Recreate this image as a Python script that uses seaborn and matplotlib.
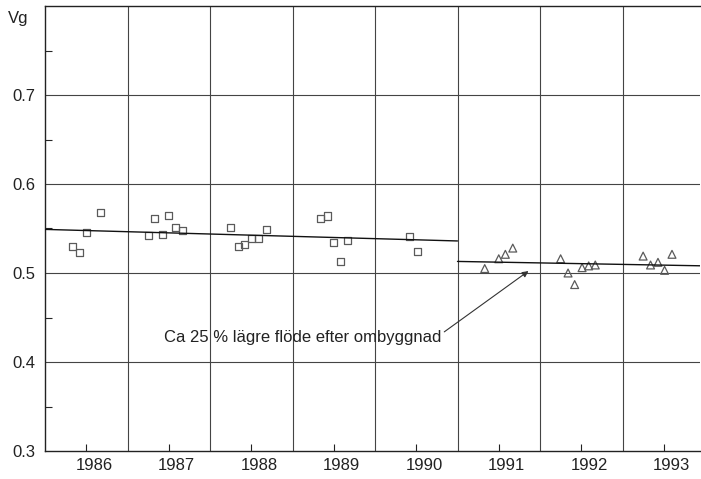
import matplotlib
matplotlib.use("Agg")
import matplotlib.pyplot as plt
import matplotlib.transforms as mtransforms
from matplotlib.ticker import FixedLocator, NullFormatter
import pandas as pd
import seaborn as sns

# Measured Vg before the rebuild (1986-1990), decimal year
before_t = [1986.33, 1986.42, 1986.50, 1986.67,
            1987.26, 1987.33, 1987.42, 1987.50, 1987.58, 1987.67,
            1988.25, 1988.34, 1988.42, 1988.50, 1988.59, 1988.68,
            1989.34, 1989.42, 1989.50, 1989.58, 1989.67,
            1990.42, 1990.51]
before_vg = [0.530, 0.523, 0.545, 0.568,
             0.542, 0.561, 0.543, 0.565, 0.551, 0.548,
             0.551, 0.530, 0.532, 0.539, 0.539, 0.549,
             0.561, 0.564, 0.534, 0.513, 0.537,
             0.541, 0.524]

# Measured Vg after the rebuild (1991-1993)
after_t = [1991.33, 1991.50, 1991.58, 1991.67,
           1992.25, 1992.34, 1992.42, 1992.51, 1992.59, 1992.67,
           1993.25, 1993.34, 1993.43, 1993.51, 1993.60]
after_vg = [0.505, 0.516, 0.521, 0.528,
            0.516, 0.500, 0.487, 0.506, 0.508, 0.509,
            0.519, 0.509, 0.512, 0.503, 0.521]

# Linear trends for each period
trend_before_t = [1986.0, 1991.0]
trend_before_vg = [0.549, 0.536]
trend_after_t = [1991.0, 1994.0]
trend_after_vg = [0.513, 0.508]

years = [1986, 1987, 1988, 1989, 1990, 1991, 1992, 1993]
year_labels = [str(y) for y in years]
y_ticks = [0.3, 0.4, 0.5, 0.6, 0.7]
y_tick_labels = ["0.3", "0.4", "0.5", "0.6", "0.7"]

note = "Ca 25 % lägre flöde efter ombyggnad"

sns.set_style("white")
plt.rcParams["font.family"] = ["Liberation Sans", "DejaVu Sans"]

fig = plt.figure(figsize=(7.01, 4.79), dpi=100)
ax = fig.add_axes([45 / 701, 1 - 451 / 479, 655 / 701, 445 / 479])

df_before = pd.DataFrame({"t": before_t, "vg": before_vg})
df_after = pd.DataFrame({"t": after_t, "vg": after_vg})

sns.scatterplot(data=df_before, x="t", y="vg", marker="s", s=26,
                facecolor="none", edgecolor="#5a5a5a", linewidth=0.9, ax=ax, zorder=3)
sns.scatterplot(data=df_after, x="t", y="vg", marker="^", s=32,
                facecolor="none", edgecolor="#5a5a5a", linewidth=0.9, ax=ax, zorder=3)

sns.lineplot(x=trend_before_t, y=trend_before_vg, color="#111111", linewidth=1.0, ax=ax, zorder=4)
sns.lineplot(x=trend_after_t, y=trend_after_vg, color="#111111", linewidth=1.0, ax=ax, zorder=4)

ax.set_xlim(1986.0, 1986.0 + 655 / 82.5)
ax.set_ylim(0.3, 0.8)

# Grid lines at year boundaries and every 0.1 in Vg
for y in years[1:]:
    ax.axvline(y, color="#444444", linewidth=0.8, zorder=1)
for v in y_ticks[1:]:
    ax.axhline(v, color="#444444", linewidth=0.8, zorder=1)

ax.xaxis.set_major_locator(FixedLocator([y + 0.5 for y in years]))
ax.set_xticklabels(year_labels)
ax.yaxis.set_major_locator(FixedLocator(y_ticks))
ax.set_yticklabels(y_tick_labels)
ax.yaxis.set_minor_locator(FixedLocator([0.35, 0.45, 0.55, 0.65, 0.75]))
ax.yaxis.set_minor_formatter(NullFormatter())

ax.tick_params(axis="x", direction="in", length=5, width=0.8, pad=5,
               labelsize=12, colors="#222222", bottom=True)
ax.tick_params(axis="y", which="major", direction="in", length=0, pad=7,
               labelsize=12, colors="#222222", left=True)
ax.tick_params(axis="y", which="minor", direction="in", length=5, width=0.8, left=True)

# Year labels sit a little to the right of their tick marks
shift = mtransforms.ScaledTranslation(8 / 100, 0, fig.dpi_scale_trans)
for lbl in ax.get_xticklabels():
    lbl.set_transform(lbl.get_transform() + shift)

ax.set_xlabel("")
ax.set_ylabel("")

for side in ["left", "bottom", "top"]:
    ax.spines[side].set_visible(True)
    ax.spines[side].set_color("#222222")
    ax.spines[side].set_linewidth(1.0)
ax.spines["right"].set_visible(False)

fig.text(8 / 701, 1 - 18 / 479, "Vg", fontsize=12, color="#222222",
         ha="left", va="center")

ax.annotate(note, xy=(1991.86, 0.5022), xytext=(1990.80, 0.427),
            ha="right", va="center", fontsize=12, color="#222222",
            arrowprops=dict(arrowstyle="-|>", color="#333333", lw=0.8,
                            mutation_scale=9, shrinkA=0, shrinkB=0,
                            relpos=(1.0, 0.75)))

fig.savefig("out.png", dpi=100)
